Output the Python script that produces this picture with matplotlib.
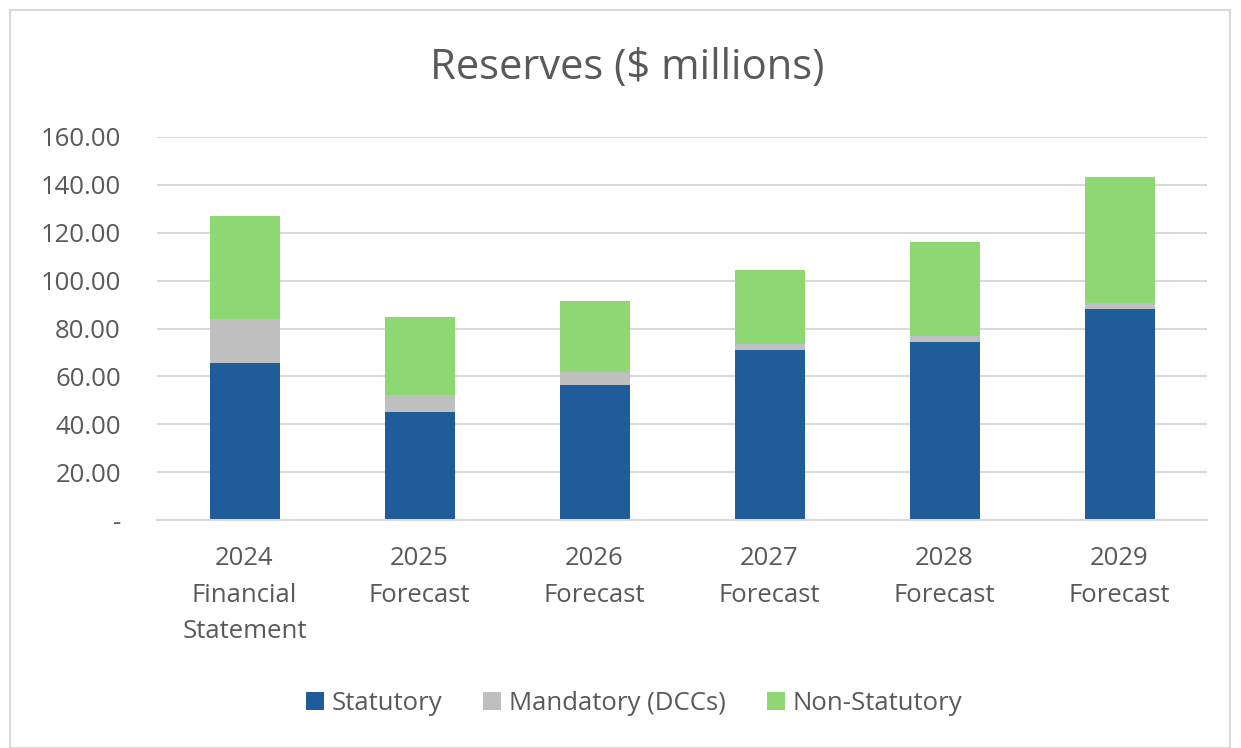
import matplotlib.pyplot as plt
from matplotlib.patches import Rectangle
import numpy as np

plt.rcParams['font.family'] = ['Open Sans', 'DejaVu Sans']

categories = ["2024\nFinancial\nStatement", "2025\nForecast", "2026\nForecast",
              "2027\nForecast", "2028\nForecast", "2029\nForecast"]
statutory = [65.4, 45.1, 56.4, 71.1, 74.3, 88.0]
mandatory = [18.4, 7.0, 5.4, 2.5, 2.7, 2.7]
non_statutory = [43.4, 32.6, 29.7, 31.0, 39.3, 52.5]
yticks = [0, 20, 40, 60, 80, 100, 120, 140, 160]
ytick_labels = ["-", "20.00", "40.00", "60.00", "80.00", "100.00", "120.00", "140.00", "160.00"]

text_color = "#595959"
colors = ["#1F5C99", "#BFBFBF", "#8ED873"]

fig = plt.figure(figsize=(12.41, 7.48), dpi=100)
ax = fig.add_axes([157 / 1241, 1 - 520 / 748, 1050 / 1241, 383 / 748])

x = np.arange(len(categories))
w = 0.4
ax.bar(x, statutory, w, color=colors[0], label="Statutory", zorder=2)
bottom2 = np.array(statutory)
ax.bar(x, mandatory, w, bottom=bottom2, color=colors[1], label="Mandatory (DCCs)", zorder=2)
bottom3 = bottom2 + np.array(mandatory)
ax.bar(x, non_statutory, w, bottom=bottom3, color=colors[2], label="Non-Statutory", zorder=2)

ax.set_xlim(-0.5, len(categories) - 0.5)
ax.set_ylim(0, 160)
ax.set_yticks(yticks)
ax.set_yticklabels(ytick_labels)
ax.set_xticks(x)
ax.set_xticklabels(categories, linespacing=1.6)
ax.tick_params(axis='both', length=0, labelsize=18.5, colors=text_color)
ax.tick_params(axis='x', pad=19)
ax.tick_params(axis='y', pad=26)
ax.grid(axis='y', color="#D9D9D9", linewidth=1.5, zorder=0)
for s in ["top", "right", "left"]:
    ax.spines[s].set_visible(False)
ax.spines["bottom"].set_color("#D9D9D9")
ax.spines["bottom"].set_linewidth(1.5)

fig.text(627 / 1241, 1 - 68 / 748, "Reserves ($ millions)", ha='center', va='center',
         fontsize=30, color=text_color)

fig.legend(loc='center', bbox_to_anchor=(634 / 1241, 1 - 703 / 748), ncol=3, frameon=False,
           fontsize=18.5, labelcolor=text_color, handlelength=0.7, handleheight=0.7,
           handletextpad=0.3, columnspacing=1.6)

fig.patches.append(Rectangle((10 / 1241, 0), 1220 / 1241, 1 - 10 / 748, transform=fig.transFigure,
                             fill=False, edgecolor="#D9D9D9", linewidth=1.5))

fig.savefig("out.png", dpi=100)
